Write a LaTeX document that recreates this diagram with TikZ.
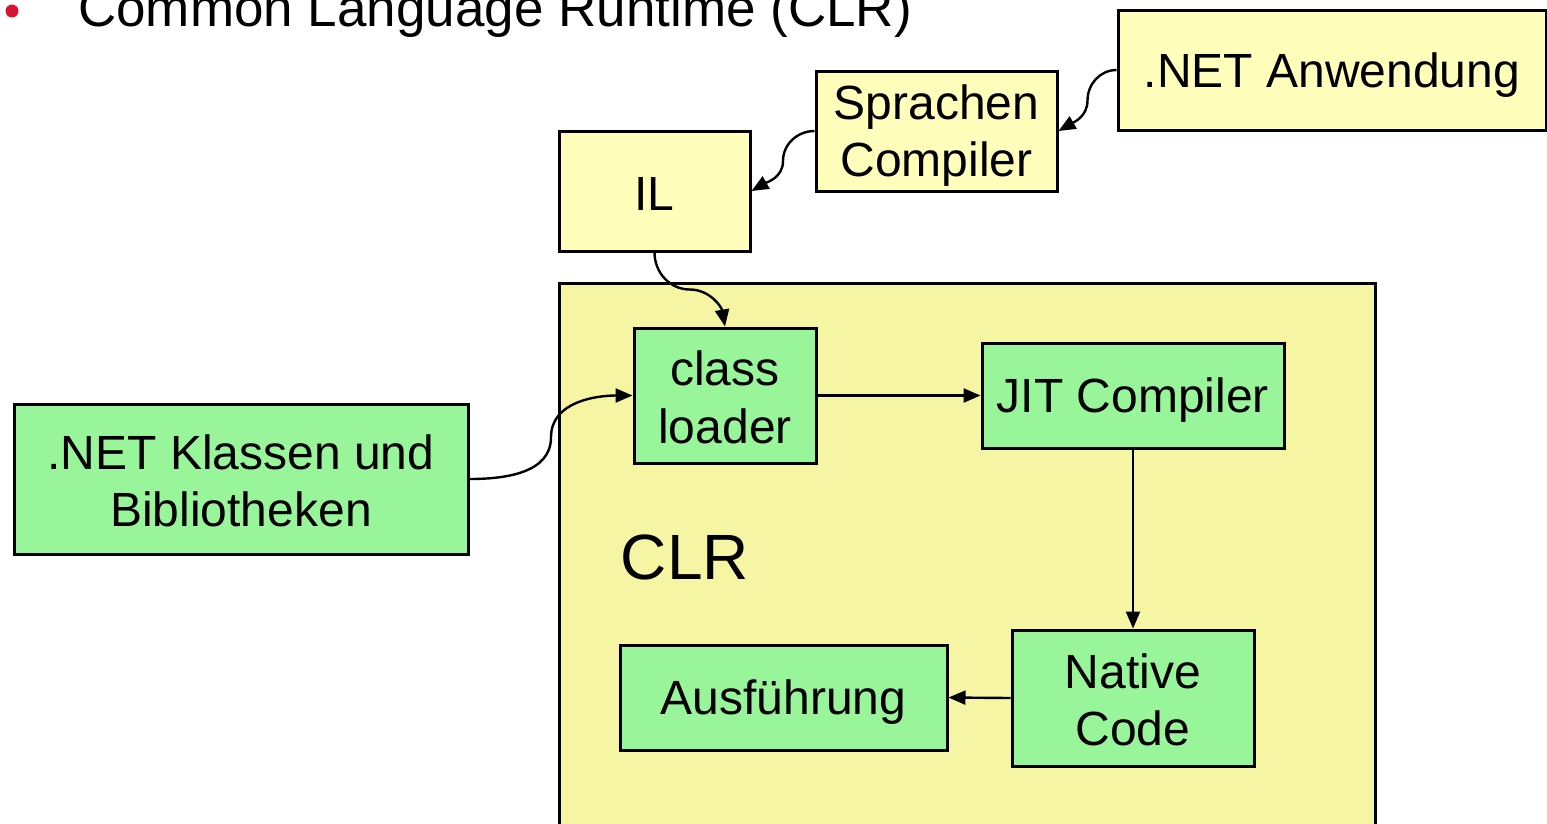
\documentclass[tikz,border=0pt]{standalone}
\usepackage{fontspec}
\setmainfont{Liberation Sans}
\usetikzlibrary{arrows.meta,calc}
\definecolor{lightyel}{RGB}{255,255,187}
\definecolor{clryel}{RGB}{245,245,163}
\definecolor{boxgreen}{RGB}{152,245,154}
\definecolor{bulletred}{RGB}{215,20,50}
\newcommand{\bs}{\rule[-6pt]{0pt}{50pt}}
\tikzset{
  box/.style={draw=black, line width=3pt, inner sep=0pt, align=center,
    font=\fontsize{48pt}{57.6pt}\selectfont},
  ybox/.style={box, fill=lightyel},
  gbox/.style={box, fill=boxgreen},
  arr/.style={line width=2.4pt, -{Triangle[length=17pt,width=14pt]}},
}
\begin{document}
\begin{tikzpicture}[x=1pt,y=-1pt]
\useasboundingbox (0,0) rectangle (1547,823);
% title
\fill[bulletred] (12,11) circle (6.5);
\node[anchor=base west, inner sep=0pt, font=\fontsize{53pt}{60pt}\selectfont] (title) at (78,26) {Common Language Runtime (CLR)};
% CLR container
\draw[line width=3pt, fill=clryel] (559,283) rectangle (1375,840);
\node[inner sep=0pt, font=\fontsize{64pt}{72pt}\selectfont] (clrlabel) at (685,557) {CLR};
% boxes
\node[ybox, minimum width=428, minimum height=120] (anw) at (1332,70) {\bs .NET Anwendung};
\node[ybox, minimum width=241, minimum height=120] (spr) at (936.5,131) {\bs Sprachen\\\bs Compiler};
\node[ybox, minimum width=191, minimum height=120] (il) at (654.5,191) {\bs IL};
\node[gbox, minimum width=182, minimum height=135] (cl) at (725,395.5) {\bs class\\\bs loader};
\node[gbox, minimum width=302, minimum height=105] (jit) at (1133,395.5) {\bs JIT Compiler};
\node[gbox, minimum width=454, minimum height=150] (net) at (241,479) {\bs .NET Klassen und\\\bs Bibliotheken};
\node[gbox, minimum width=327, minimum height=105] (aus) at (783.5,697.5) {\bs Ausführung};
\node[gbox, minimum width=242, minimum height=136] (nat) at (1133,698) {\bs Native\\\bs Code};
% midpoints of the curved connectors
\coordinate (m1) at ($(anw.west)!0.5!(spr.east)$);
\coordinate (m2) at ($(spr.west)!0.5!(il.east)$);
\coordinate (m3) at ($(il.south)!0.5!(cl.north)$);
\coordinate (m4) at ($(net.east)!0.5!(cl.west)$);
% connectors
\draw[arr] (anw.west) to[out=180,in=90] (m1) to[out=-90,in=30] (spr.east);
\draw[arr] (spr.west) to[out=180,in=90] (m2) to[out=-90,in=30] (il.east);
\draw[arr] (il.south) to[out=-90,in=180] (m3) to[out=0,in=100] (cl.north);
\draw[arr] (net.east) to[out=0,in=-90] (m4) to[out=90,in=180] (cl.west);
\draw[arr] (cl.east) -- (jit.west);
\draw[arr] (jit.south) -- (nat.north);
\draw[arr] (nat.west) -- (aus.east);
\end{tikzpicture}
\end{document}
